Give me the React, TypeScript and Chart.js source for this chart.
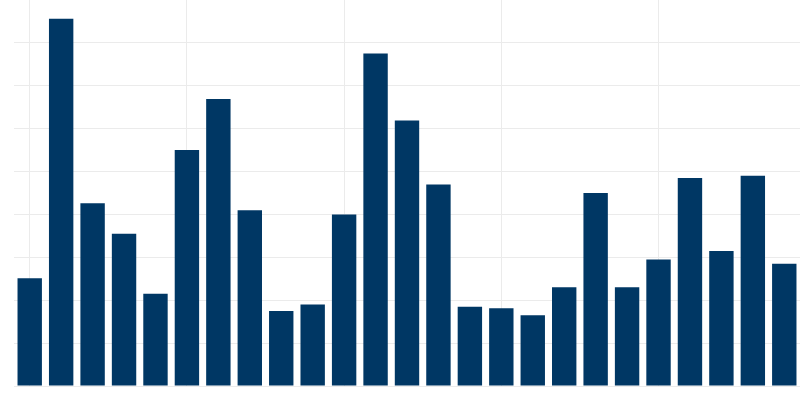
import React, { useEffect, useRef } from "react";
import { Chart, registerables } from "chart.js";

Chart.register(...registerables);

const categories: string[] = Array.from({ length: 25 }, (_, i) => `P${i + 1}`);
const values: number[] = [
  2.51, 8.56, 4.26, 3.55, 2.15, 5.5, 6.69, 4.1, 1.75, 1.9, 4.0, 7.75, 6.19,
  4.7, 1.85, 1.81, 1.65, 2.3, 4.5, 2.3, 2.95, 4.85, 3.15, 4.9, 2.85,
];
const yMax = 9;
const yStep = 1;
const xGridEvery = 5;

export default function App() {
  const ref = useRef<HTMLCanvasElement>(null);
  useEffect(() => {
    if (!ref.current) return;
    const chart = new Chart(ref.current, {
      type: "bar",
      data: {
        labels: categories,
        datasets: [
          {
            data: values,
            backgroundColor: "#003764",
            borderWidth: 0,
            barPercentage: 0.97,
            categoryPercentage: 0.8,
          },
        ],
      },
      options: {
        animation: false,
        responsive: true,
        maintainAspectRatio: false,
        layout: { padding: { left: 14, right: 0, top: 0, bottom: 14 } },
        plugins: { legend: { display: false }, tooltip: { enabled: false } },
        scales: {
          x: {
            offset: true,
            border: { display: false },
            ticks: { display: false },
            grid: {
              offset: false,
              drawTicks: false,
              color: (ctx: any) =>
                ctx.index % xGridEvery === 0 ? "#ebebeb" : "rgba(0,0,0,0)",
            },
          },
          y: {
            min: 0,
            max: yMax,
            border: { display: false },
            ticks: { display: false, stepSize: yStep },
            grid: {
              drawTicks: false,
              color: (ctx: any) =>
                ctx.tick && ctx.tick.value >= yMax ? "rgba(0,0,0,0)" : "#ebebeb",
            },
          },
        },
      },
    });
    return () => chart.destroy();
  }, []);
  return (
    <div style={{ position: "fixed", left: 0, top: 0, width: 800, height: 400 }}>
      <canvas ref={ref} />
    </div>
  );
}
